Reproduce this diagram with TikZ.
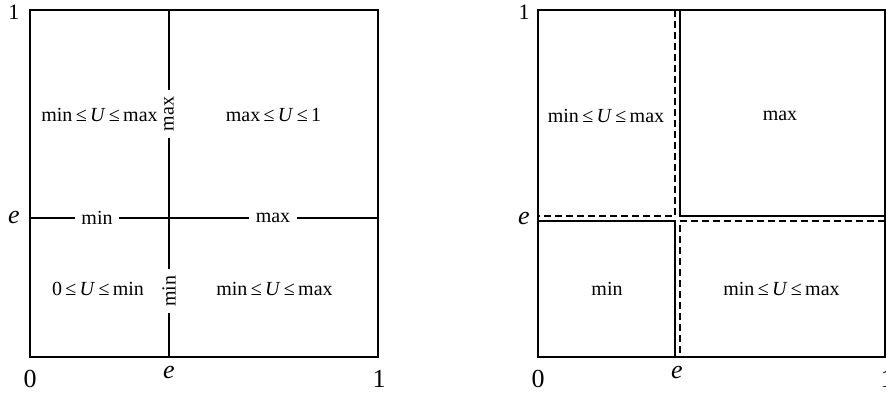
\documentclass[tikz,border=0pt]{standalone}
\usepackage{fontspec}
\setmainfont{Liberation Serif}
\begin{document}
\begin{tikzpicture}[x=1pt,y=-1pt,
  frame/.style={line width=2.2pt},
  divider/.style={line width=1.4pt},
  dashdiv/.style={line width=1.4pt, dash pattern=on 7pt off 4pt},
  region/.style={font=\fontsize{20}{24}\selectfont, inner sep=0pt},
  cutlabel/.style={font=\fontsize{20}{24}\selectfont, inner sep=6.5pt},
  axislabel/.style={font=\fontsize{26}{30}\selectfont, inner sep=0pt},
  toplabel/.style={font=\fontsize{22}{26}\selectfont, inner sep=0pt}]
\useasboundingbox (0,0) rectangle (886,394);

% ---------------- left panel ----------------
\draw[frame] (30,10) rectangle (378,357);
\coordinate (Lvt) at (169,10);
\coordinate (Lvb) at (169,357);
\coordinate (Lhl) at (30,218);
\coordinate (Lhr) at (378,218);
\node[cutlabel, rotate=90] (Lmaxv) at (169,114) {max};
\node[cutlabel, rotate=90] (Lminv) at (169,291) {min};
\node[cutlabel] (Lminh) at (97,218) {min};
\node[cutlabel] (Lmaxh) at (273,218) {max};
\draw[divider] (Lvt) -- (Lmaxv) -- (Lminv) -- (Lvb);
\draw[divider] (Lhl) -- (Lminh) -- (Lmaxh) -- (Lhr);

\node[region] (Ltl) at (99.5,115) {min\,≤\,\textit{U}\,≤\,max};
\node[region] (Ltr) at (273.5,115) {max\,≤\,\textit{U}\,≤\,1};
\node[region] (Lbl) at (98,289) {0\,≤\,\textit{U}\,≤\,min};
\node[region] (Lbr) at (274.5,289) {min\,≤\,\textit{U}\,≤\,max};

\node[toplabel] (Lone) at (14,12) {1};
\node[axislabel] (Le) at (14,217) {\textit{e}};
\node[axislabel] (Lzero) at (30,379) {0};
\node[axislabel] (Lex) at (169,372.5) {\textit{e}};
\node[axislabel] (Lonex) at (379,379) {1};

% ---------------- right panel ----------------
\draw[frame] (538,10) rectangle (885,357);
\coordinate (Rst) at (680,10);
\coordinate (Rsc) at (680,216);
\coordinate (Rsr) at (885,216);
\coordinate (Rdt) at (675,10);
\coordinate (Rdc) at (675,216);
\coordinate (Rdl) at (538,216);
\coordinate (Rbl) at (538,221);
\coordinate (Rbc) at (675,221);
\coordinate (Rbb) at (675,357);
\coordinate (Rer) at (885,221);
\coordinate (Rec) at (680,221);
\coordinate (Reb) at (680,357);
\draw[divider] (Rst) -- (Rsc) -- (Rsr);
\draw[dashdiv] (Rdt) -- (Rdc) -- (Rdl);
\draw[divider] (Rbl) -- (Rbc) -- (Rbb);
\draw[dashdiv] (Rer) -- (Rec) -- (Reb);

\node[region] (Rtl) at (606,116) {min\,≤\,\textit{U}\,≤\,max};
\node[region] (Rtr) at (780,116) {max};
\node[region] (Rbll) at (607,289) {min};
\node[region] (Rbrr) at (781.5,289) {min\,≤\,\textit{U}\,≤\,max};

\node[toplabel] (Rone) at (524,12) {1};
\node[axislabel] (Re) at (524,218) {\textit{e}};
\node[axislabel] (Rzero) at (538,379) {0};
\node[axislabel] (Rex) at (677,372.5) {\textit{e}};
\node[axislabel] (Ronex) at (887,379) {1};
\end{tikzpicture}
\end{document}
